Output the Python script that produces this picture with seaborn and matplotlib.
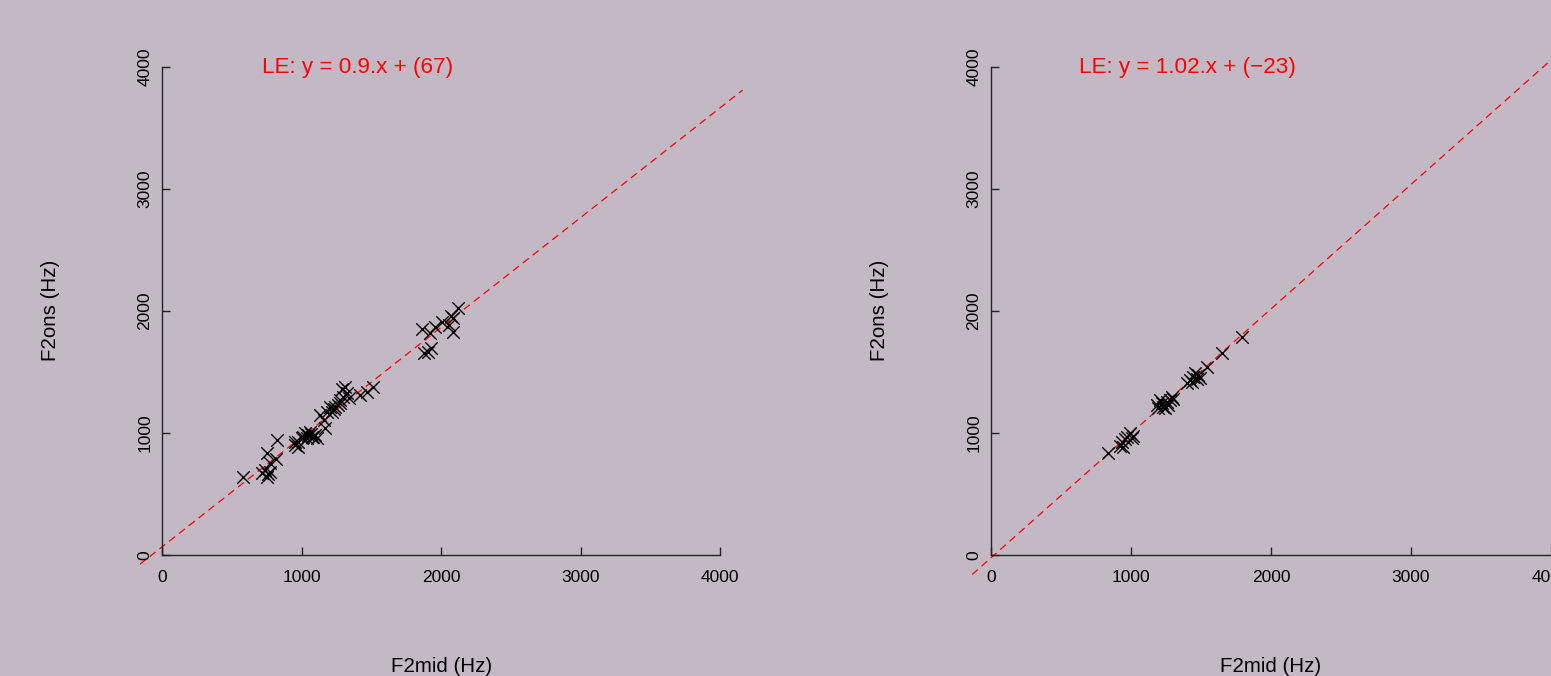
import matplotlib
matplotlib.use("Agg")
import matplotlib.pyplot as plt
import seaborn as sns
import pandas as pd

# data (Hz)
f2mid_a = [583, 822, 750, 817, 774, 714, 750, 774, 762, 740,
           953, 977, 1013, 1049, 1073, 1097, 1061, 1025, 1109, 1037,
           977, 953, 1085, 1065, 1000, 1168, 1157, 1133, 1181, 1216,
           1240, 1204, 1276, 1300, 1324, 1288, 1312, 1276, 1336, 1260,
           1230, 1419, 1467, 1515, 1862, 1921, 1957, 2005, 2053, 2088,
           2117, 2088, 2070, 1874, 1909, 1928]
f2ons_a = [642, 940, 840, 784, 751, 669, 642, 683, 660, 700,
           902, 929, 970, 984, 970, 984, 1011, 997, 956, 956,
           888, 929, 965, 990, 960, 1045, 1107, 1148, 1175, 1175,
           1216, 1216, 1270, 1298, 1325, 1358, 1375, 1243, 1284, 1230,
           1200, 1311, 1339, 1375, 1850, 1817, 1866, 1912, 1885, 1940,
           2022, 1830, 1960, 1653, 1667, 1694]

f2mid_b = [838, 921, 945, 933, 957, 969, 993, 1017, 1005,
           1195, 1183, 1219, 1231, 1255, 1279, 1302, 1267, 1243, 1207, 1290,
           1398, 1421, 1445, 1457, 1481, 1493, 1469, 1433, 1540, 1648, 1790]
f2ons_b = [834, 893, 888, 929, 950, 970, 997, 975, 960,
           1202, 1230, 1243, 1210, 1257, 1270, 1276, 1230, 1202, 1270, 1298,
           1407, 1434, 1462, 1489, 1475, 1448, 1440, 1420, 1544, 1653, 1790]

slopes = [0.9, 1.02]
intercepts = [67, -23]
eq_labels = ["LE: y = 0.9.x + (67)", "LE: y = 1.02.x + (\u221223)"]
ticks = [0, 1000, 2000, 3000, 4000]

bg = "#C3B9C5"
sns.set_style("ticks")
plt.rcParams['font.family'] = ['Liberation Sans', 'DejaVu Sans']

fig = plt.figure(figsize=(15.51, 6.76), dpi=100, facecolor=bg)
ax1 = fig.add_axes([0.0901, 0.1501, 0.3887, 0.7796])
ax2 = fig.add_axes([0.6245, 0.1501, 0.3899, 0.7796])

panels = [(ax1, f2mid_a, f2ons_a), (ax2, f2mid_b, f2ons_b)]

for i, (ax, xs, ys) in enumerate(panels):
    ax.set_facecolor(bg)
    df = pd.DataFrame({'F2mid': xs, 'F2ons': ys})
    sns.scatterplot(data=df, x='F2mid', y='F2ons', ax=ax, marker='x',
                    color='black', s=80, linewidth=1.0, zorder=3)
    ax.axline((0, intercepts[i]), slope=slopes[i], color='red',
              linestyle=(0, (6, 4)), linewidth=0.9, zorder=2)
    ax.set_xlim(-160, 4160)
    ax.set_ylim(-160, 4160)
    ax.text(1400, 4000, eq_labels[i], color='red', fontsize=16.2,
            ha='center', va='center')

    for s in ['top', 'right']:
        ax.spines[s].set_visible(False)
    ax.spines['left'].set_position(('data', 0))
    ax.spines['bottom'].set_position(('data', 0))
    ax.spines['left'].set_bounds(0, 4000)
    ax.spines['bottom'].set_bounds(0, 4000)
    for s in ['left', 'bottom']:
        ax.spines[s].set_linewidth(1.0)
        ax.spines[s].set_color('#222222')

    ax.set_xticks(ticks)
    ax.set_yticks(ticks)
    ax.set_xticklabels([str(t) for t in ticks])
    ax.set_yticklabels([str(t) for t in ticks], rotation=90, va='center')
    ax.tick_params(axis='both', direction='in', length=6, width=1.0,
                   labelsize=12.5, colors='#222222', labelcolor='black')
    ax.tick_params(axis='x', pad=11)
    ax.tick_params(axis='y', pad=7)

    ax.set_xlabel('F2mid (Hz)', fontsize=14.8, color='black')
    ax.set_ylabel('F2ons (Hz)', fontsize=14.8, color='black')
    ax.xaxis.set_label_coords(0.5, -0.156)
    ax.yaxis.set_label_coords(-0.132, 0.502)

fig.savefig("out.png", dpi=100, facecolor=bg)
